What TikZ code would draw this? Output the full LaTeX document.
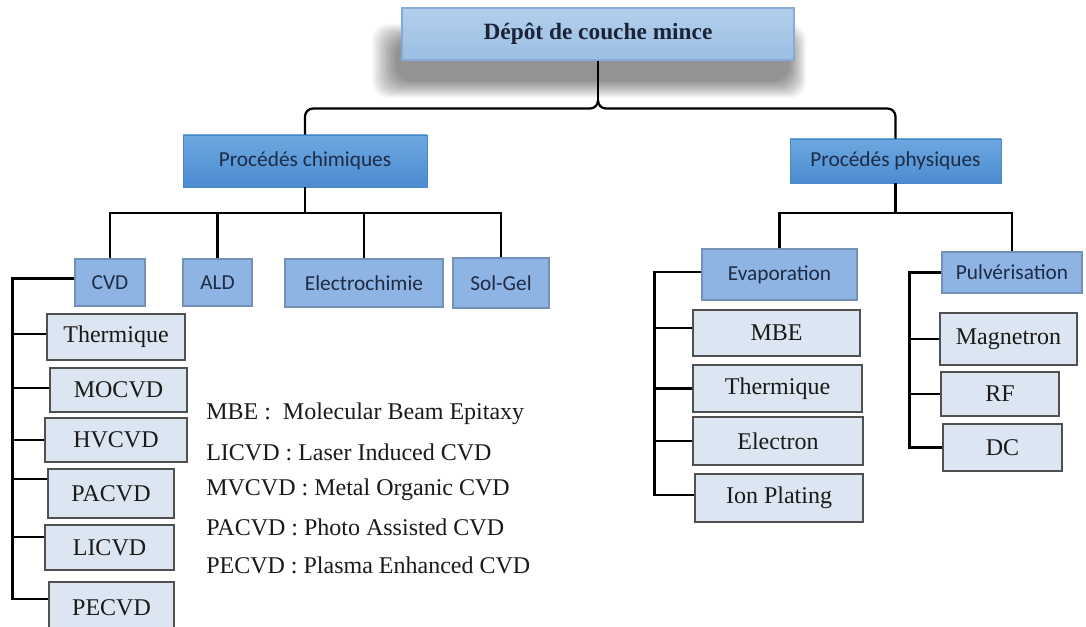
\documentclass[tikz,border=0pt]{standalone}
\usepackage{fontspec}
\setmainfont{Liberation Serif}
\newfontfamily\calib{Carlito}

\definecolor{titletxt}{HTML}{1B2338}
\definecolor{topfillA}{HTML}{B3CFEC}
\definecolor{topfillB}{HTML}{9BBEE3}
\definecolor{topedge}{HTML}{86ABD6}
\definecolor{grpA}{HTML}{6DA8E0}
\definecolor{grpB}{HTML}{4C8BD0}
\definecolor{grpedge}{HTML}{4A86C8}
\definecolor{subfill}{HTML}{8EB4E3}
\definecolor{subedge}{HTML}{7390B5}
\definecolor{bluetxt}{HTML}{1E2B45}
\definecolor{leaffill}{HTML}{DCE6F2}
\definecolor{leafedge}{HTML}{505050}
\definecolor{leaftxt}{HTML}{1A1A1A}

% box given by its two corners, in pixel units: name, style, x1, y1, x2, y2, text
\newcommand\pxbox[7]{%
  \node[#2, minimum width={(#5-#3)*0.75pt}, minimum height={(#6-#4)*0.75pt}]
    (#1) at ({(#3+#5)/2},{(#4+#6)/2}) {#7};}

\begin{document}
\begin{tikzpicture}[x=0.75pt,y=-0.75pt,
  conn/.style={line width=1.7pt, black},
  mainbox/.style={draw=topedge, line width=0.8pt, top color=topfillA, bottom color=topfillB,
    inner sep=0pt, text=titletxt, font=\fontsize{17.5}{20}\selectfont\bfseries},
  grpbox/.style={draw=grpedge, line width=0.5pt, top color=grpA, bottom color=grpB,
    inner sep=0pt, text=bluetxt, font=\calib\fontsize{16}{19}\selectfont},
  subbox/.style={draw=subedge, line width=0.8pt, fill=subfill,
    inner sep=0pt, text=bluetxt, font=\calib\fontsize{16}{19}\selectfont},
  leafbox/.style={draw=leafedge, line width=0.9pt, fill=leaffill,
    inner sep=0pt, text=leaftxt, font=\fontsize{18}{21}\selectfont},
  legend/.style={anchor=west, inner sep=0pt, text=leaftxt, font=\fontsize{18}{21}\selectfont}]

\useasboundingbox (0,0) rectangle (1086,627);
\fill[white] (0,0) rectangle (1086,627);
\clip (0,0) rectangle (1086,627);

% soft shadow cast below the root box
\foreach \i in {0,...,17}{
  \fill[black, opacity=0.028, rounded corners=12pt] (372+1.4*\i,24+\i) rectangle (806-1.0*\i,98-\i);
}

% root
\pxbox{top}{mainbox}{402}{8}{794}{60}{Dépôt de couche mince}

% two families of processes
\pxbox{chim}{grpbox}{183}{135}{427}{187}{Procédés chimiques}
\pxbox{phys}{grpbox}{790}{139}{1001}{183}{Procédés physiques}

% chemical processes
\pxbox{cvd}{subbox}{75}{259}{145}{306}{CVD}
\pxbox{ald}{subbox}{183}{259}{252}{306}{ALD}
\pxbox{elec}{subbox}{285}{259}{443}{307}{Electrochimie}
\pxbox{sol}{subbox}{453}{258}{549}{308}{Sol-Gel}

% CVD variants
\pxbox{th}{leafbox}{47}{314}{185}{360}{Thermique}
\pxbox{mo}{leafbox}{50}{368}{187}{412}{MOCVD}
\pxbox{hv}{leafbox}{45}{418}{187}{462}{HVCVD}
\pxbox{pa}{leafbox}{48}{469}{174}{518}{PACVD}
\pxbox{li}{leafbox}{45}{525}{174}{570}{LICVD}
\pxbox{pe}{leafbox}{49}{582}{174}{634}{PECVD}

% physical processes
\pxbox{evap}{subbox}{702}{249}{857}{300}{Evaporation}
\pxbox{pulv}{subbox}{942}{252}{1082}{293}{Pulvérisation}

\pxbox{mbe}{leafbox}{693}{310}{860}{356}{MBE}
\pxbox{th2}{leafbox}{693}{365}{862}{412}{Thermique}
\pxbox{el}{leafbox}{693}{417}{863}{465}{Electron}
\pxbox{ion}{leafbox}{695}{474}{863}{522}{Ion Plating}

\pxbox{mag}{leafbox}{940}{313}{1077}{365}{Magnetron}
\pxbox{rf}{leafbox}{941}{372}{1059}{416}{RF}
\pxbox{dc}{leafbox}{943}{424}{1062}{471}{DC}

% abbreviations
\node[legend] (l1) at (206,414) {MBE :\ \ Molecular Beam Epitaxy};
\node[legend] (l2) at (206,452) {LICVD : Laser Induced CVD};
\node[legend] (l3) at (206,490) {MVCVD : Metal Organic CVD};
\node[legend] (l4) at (206,527) {PACVD : Photo Assisted CVD};
\node[legend] (l5) at (206,565) {PECVD : Plasma Enhanced CVD};

% brace under the root
\coordinate (brace) at ([yshift=-36pt]top.south);
\draw[conn] (top.south) -- ([yshift=6pt]brace);
\draw[conn, rounded corners=6pt] (chim.north) |- (brace) -- ([yshift=6pt]brace);
\draw[conn, rounded corners=6pt] (phys.north) |- (brace) -- ([yshift=6pt]brace);

% chemical branch
\coordinate (cbar) at ([yshift=-19.5pt]chim.south);
\draw[conn] (chim.south) -- (cbar);
\draw[conn] (cvd.north) |- (cbar) -| (sol.north);
\draw[conn] (ald.north) -- (ald.north |- cbar);
\draw[conn] (elec.north) -- (elec.north |- cbar);

% physical branch
\coordinate (pbar) at ([yshift=-22.5pt]phys.south);
\draw[conn] (phys.south) -- (pbar);
\draw[conn] (evap.north) |- (pbar) -| (pulv.north);

% CVD spine
\coordinate (cs) at ([xshift=-46.5pt, yshift=3pt]cvd.west);
\draw[conn] ([yshift=3pt]cvd.west) -- (cs) |- ([yshift=7pt]pe.west);
\foreach \n/\dy in {th/2, mo/1.5, hv/0, pa/11, li/8}{
  \path ([yshift=\dy pt]\n.west) coordinate (tmp);
  \draw[conn] (tmp) -- (tmp -| cs);
}

% evaporation spine
\coordinate (es) at ([xshift=-35.25pt, yshift=2pt]evap.west);
\draw[conn] ([yshift=2pt]evap.west) -- (es) |- ([yshift=2pt]ion.west);
\foreach \n/\dy in {mbe/3.75, th2/0, el/0}{
  \path ([yshift=\dy pt]\n.west) coordinate (tmp);
  \draw[conn] (tmp) -- (tmp -| es);
}

% sputtering spine
\coordinate (ps) at ([xshift=-24pt]pulv.west);
\draw[conn] (pulv.west) -- (ps) |- (dc.west);
\foreach \n in {mag, rf}{
  \draw[conn] (\n.west) -- (\n.west -| ps);
}

\end{tikzpicture}
\end{document}
